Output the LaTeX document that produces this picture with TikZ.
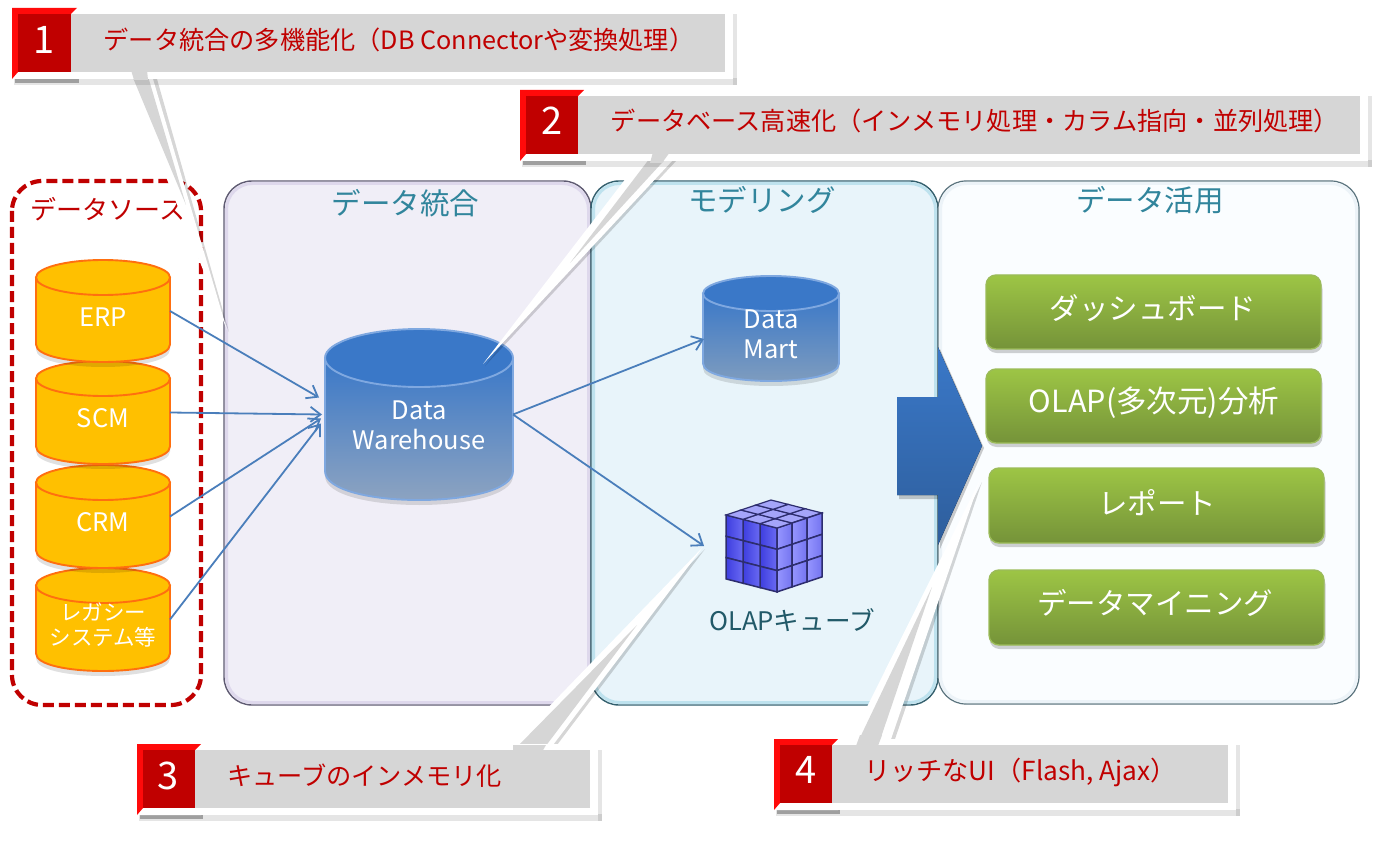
\documentclass[tikz,border=0pt]{standalone}
\usepackage{fontspec}
\setmainfont{Noto Sans CJK JP}
\usetikzlibrary{arrows.meta,calc}
\definecolor{redD}{HTML}{C00000}
\definecolor{redB}{HTML}{FF0A0A}
\definecolor{barG}{HTML}{D6D6D6}
\definecolor{tealT}{HTML}{31859C}
\definecolor{tealD}{HTML}{215968}
\definecolor{lineB}{HTML}{4A7EBB}
\definecolor{capB}{HTML}{3A78C8}
\definecolor{capE}{HTML}{7FA8E0}
\definecolor{orangeF}{HTML}{FFC000}
\definecolor{orangeE}{HTML}{FF6F0F}
\definecolor{grnT}{HTML}{9DC545}
\definecolor{grnB}{HTML}{759339}
\definecolor{grnE}{HTML}{9BBB59}
\definecolor{dwB}{HTML}{92A6C0}
\definecolor{mrtB}{HTML}{829EBE}
\definecolor{arwB}{HTML}{2E5E9C}
\definecolor{p1F}{HTML}{F0EEF7}
\definecolor{p1E}{HTML}{5F5B72}
\definecolor{p1I}{HTML}{DED8EC}
\definecolor{p2F}{HTML}{E8F4FA}
\definecolor{p2E}{HTML}{34606E}
\definecolor{p2I}{HTML}{BEE2EE}
\definecolor{p3F}{HTML}{FAFDFF}
\definecolor{p3E}{HTML}{5A737D}
\definecolor{p3I}{HTML}{ECF3F8}
\definecolor{cuL}{HTML}{3E3EE0}
\definecolor{cuLb}{HTML}{6A6AF2}
\definecolor{cuR}{HTML}{9696FF}
\definecolor{cuRb}{HTML}{7474F0}
\definecolor{cuT}{HTML}{A5A5FA}
\definecolor{cuE}{HTML}{2D2D6E}
\newcommand{\fsz}[1]{\fontsize{#1}{#1}\selectfont}
\newcommand{\mycyl}[7]{% x1 y1 x2 y2 ry fillstyle edgecolor
  \pgfmathsetmacro{\cyt}{#2+#5}
  \pgfmathsetmacro{\cyb}{#4-#5}
  \pgfmathsetmacro{\cyc}{#4+#5/3}
  \pgfmathsetmacro{\cyd}{#4+#5/3+5}
  \pgfmathsetmacro{\cye}{\cyb+5}
  \fill[black,opacity=.12] (#1,\cye) .. controls (#1,\cyd) and (#3,\cyd) .. (#3,\cye) -- (#3,\cyb) -- (#1,\cyb) -- cycle;
  \draw[line width=1.9pt,draw=#7,#6] (#1,\cyt) -- (#1,\cyb) .. controls (#1,\cyc) and (#3,\cyc) .. (#3,\cyb) -- (#3,\cyt) -- cycle;
}
\newcommand{\mycap}[6]{% x1 y1 x2 ry fill edge
  \pgfmathsetmacro{\cmx}{(#1+#3)/2}
  \pgfmathsetmacro{\crx}{(#3-#1)/2}
  \pgfmathsetmacro{\cyt}{#2+#4}
  \draw[line width=1.9pt,draw=#6,fill=#5] (\cmx,\cyt) ellipse [x radius=\crx, y radius=#4];
}
\newcommand{\mybar}[5]{% xl yt yb xr xg
  \fill[black,opacity=.10] (#1-4,#3+6) rectangle (#5+12,#3+13);
  \fill[black,opacity=.10] (#5+8,#2) rectangle (#5+12,#3+13);
  \fill[black,opacity=.30] (#1-3,#3+6) rectangle (#4+8,#3+11);
  \fill[white] (#1,#2-6) rectangle (#5+8,#3+7);
  \fill[barG] (#4,#2) rectangle (#5,#3);
  \fill[white] (#1-6,#3+7) -- (#1,#3) -- (#4,#3) -- (#4+6,#3+7) -- cycle;
  \fill[redB] (#1-6,#2-6) -- (#4+6,#2-6) -- (#4,#2) -- (#1,#2) -- (#1,#3) -- (#1-6,#3+7) -- cycle;
  \fill[redD] (#1,#2) rectangle (#4,#3);
}
\newcommand{\mywedge}[6]{% ax ay bx by tipx tipy
  \fill[black,opacity=.16] (#1+3,#2) -- (#3+4,#4) -- (#5+2,#6+2) -- cycle;
  \fill[white] (#1,#2) -- (#3,#4) -- (#5,#6) -- cycle;
}
\tikzset{
  hit/.style={inner sep=0pt,outer sep=0pt,rectangle},
  paneltitle/.style={text=tealT,font=\fsz{29.5},inner sep=0pt},
  calltext/.style={text=redD,font=\fsz{25.2},inner sep=0pt},
  numtext/.style={text=white,font=\fsz{38},inner sep=0pt},
  conn/.style={draw=lineB,line width=1.8pt,-{Straight Barb[length=10pt,width=15pt,line width=1.8pt]}},
  greenbox/.style={rectangle,rounded corners=10pt,draw=grnE,line width=1.4pt,top color=grnT,bottom color=grnB,inner sep=0pt},
  greentext/.style={text=white,font=\fsz{29.5},inner sep=0pt},
  cyltext/.style={text=white,font=\fontsize{25.5}{30}\selectfont,inner sep=0pt,align=center},
}
\begin{document}
\begin{tikzpicture}[x=1pt,y=-1pt]
\useasboundingbox (0,0) rectangle (1386,842);
\fill[white] (0,0) rectangle (1386,842);
% panels
\filldraw[rounded corners=28pt,fill=p1F,draw=p1E,line width=1.4pt] (224,181) rectangle (591,705);
\draw[rounded corners=26pt,draw=p1I,line width=3pt] (226.5,183.5) rectangle (588.5,702.5);
\filldraw[rounded corners=28pt,fill=p2F,draw=p2E,line width=1.4pt] (591,181) rectangle (938,705);
\draw[rounded corners=26pt,draw=p2I,line width=3pt] (593.5,183.5) rectangle (935.5,702.5);
\filldraw[rounded corners=28pt,fill=p3F,draw=p3E,line width=1.2pt] (938,181) rectangle (1359,704);
\draw[rounded corners=26pt,draw=p3I,line width=3pt] (940.5,183.5) rectangle (1356.5,701.5);
\node[paneltitle] (tInt) at (405.5,203) {データ統合};
\node[paneltitle] (tMod) at (762,200) {モデリング};
\node[paneltitle] (tUse) at (1150,200) {データ活用};
% data source frame
\draw[draw=redD,line width=4.2pt,rounded corners=30pt,dash pattern=on 11pt off 5pt] (12,181) rectangle (201,705);
\node[text=redD,font=\fsz{26},inner sep=0pt] (tSrc) at (108,209) {データソース};
% source cylinders
\mycyl{36}{568}{170}{671}{17.5}{fill=orangeF}{orangeE}
\mycap{36}{568}{170}{17.5}{orangeF}{orangeE}
\mycyl{36}{465}{170}{568}{17.5}{fill=orangeF}{orangeE}
\mycap{36}{465}{170}{17.5}{orangeF}{orangeE}
\mycyl{36}{361}{170}{464}{17.5}{fill=orangeF}{orangeE}
\mycap{36}{361}{170}{17.5}{orangeF}{orangeE}
\mycyl{36}{260}{170}{362}{17.5}{fill=orangeF}{orangeE}
\mycap{36}{260}{170}{17.5}{orangeF}{orangeE}
\node[hit,minimum width=134pt,minimum height=102pt] (erp) at (103,311) {};
\node[hit,minimum width=134pt,minimum height=103pt] (scm) at (103,412.5) {};
\node[hit,minimum width=134pt,minimum height=103pt] (crm) at (103,516.5) {};
\node[hit,minimum width=134pt,minimum height=103pt] (leg) at (103,619.5) {};
\node[cyltext] (lerp) at (103,317) {ERP};
\node[cyltext] (lscm) at (103,418) {SCM};
\node[cyltext] (lcrm) at (103,522) {CRM};
\node[cyltext,font=\fontsize{21.5}{25}\selectfont] (lleg) at (103,625) {レガシー\\システム等};
% warehouse and mart
\mycyl{325}{329}{513}{500}{29}{top color=capB,bottom color=dwB}{capE}
\mycap{325}{329}{513}{29}{capB}{capE}
\node[hit,minimum width=188pt,minimum height=171pt] (dw) at (419,414.5) {};
\node[cyltext] (ldw) at (419,425) {Data\\Warehouse};
\mycyl{703}{276}{839}{381}{17.5}{top color=capB,bottom color=mrtB}{capE}
\mycap{703}{276}{839}{17.5}{capB}{capE}
\node[hit,minimum width=136pt,minimum height=105pt] (mart) at (771,328.5) {};
\node[cyltext] (lmart) at (771,334) {Data\\Mart};
% cube
\node[hit,minimum width=96pt,minimum height=94pt] (cube) at (774,545) {};
\foreach \i in {0,1,2}{\foreach \k in {0,1,2}{
  \pgfmathsetmacro{\px}{777-17*\i}\pgfmathsetmacro{\py}{528-4.33*\i+21.3*\k}
  \filldraw[draw=cuE,line width=1.5pt,left color=cuL,right color=cuLb] (\px,\py) -- ++(-17,-4.33) -- ++(0,21.3) -- ++(17,4.33) -- cycle;
  \pgfmathsetmacro{\qx}{777+15*\i}\pgfmathsetmacro{\qy}{528-5*\i+21.3*\k}
  \filldraw[draw=cuE,line width=1.5pt,left color=cuR,right color=cuRb] (\qx,\qy) -- ++(15,-5) -- ++(0,21.3) -- ++(-15,5) -- cycle;
  \pgfmathsetmacro{\rx}{777-17*\i+15*\k}\pgfmathsetmacro{\ry}{528-4.33*\i-5*\k}
  \filldraw[draw=cuE,line width=1.2pt,fill=cuT] (\rx,\ry) -- ++(-17,-4.33) -- ++(15,-5) -- ++(17,4.33) -- cycle;
}}
\node[text=tealD,font=\fsz{25.6},inner sep=0pt] (lcube) at (792,620) {OLAPキューブ};
% connectors
\draw[conn] (erp.east) -- ($(dw.west)+(-6,-17)$);
\draw[conn] (scm.east) -- ($(dw.west)+(-3,0)$);
\draw[conn] (crm.east) -- ($(dw.west)+(-4,4)$);
\draw[conn] (leg.east) -- ($(dw.west)+(-4,9)$);
\draw[conn] (dw.east) -- ($(mart.west)+(1,10.5)$);
\draw[conn] (dw.east) -- ($(cube.west)+(-22,1)$);
% big arrow
\fill[black,opacity=.2] (899,399) -- (940,399) -- (940,349) -- (984,448) -- (940,549) -- (940,499) -- (899,499) -- cycle;
\fill[top color=capB,bottom color=arwB] (897,397) -- (938,397) -- (938,347) -- (982,446) -- (938,545) -- (938,495) -- (897,495) -- cycle;
% green boxes
\foreach \yy/\xx/\hh in {312/1153.5/74,406/1153.5/74,505.5/1156.5/75,607.5/1156.5/75}{
  \fill[rounded corners=10pt,black,opacity=.18] (\xx-167,\yy-\hh/2+4) rectangle (\xx+169,\yy+\hh/2+4);
}
\node[greenbox,minimum width=335pt,minimum height=74pt] (g1) at (1153.5,312) {};
\node[greenbox,minimum width=335pt,minimum height=74pt] (g2) at (1153.5,406) {};
\node[greenbox,minimum width=335pt,minimum height=75pt] (g3) at (1156.5,505.5) {};
\node[greenbox,minimum width=335pt,minimum height=75pt] (g4) at (1156.5,607.5) {};
\node[greentext] (lg1) at (1153,308) {ダッシュボード};
\node[greentext,font=\fsz{30.5}] (lg2) at (1154,403) {OLAP(多次元)分析};
\node[greentext] (lg3) at (1157,503) {レポート};
\node[greentext] (lg4) at (1155,603) {データマイニング};
% callout wedges
\mywedge{127}{79}{153}{79}{227}{330}
\fill[barG] (131,73) -- (147,73) -- (186,205) -- cycle;
\mywedge{640}{160}{673}{160}{483}{364}
\fill[barG] (653,154) -- (670,154) -- (570,263) -- cycle;
\mywedge{512}{745}{553}{745}{703}{547}
\fill[barG] (513,751) -- (542,751) -- (637,625) -- cycle;
\mywedge{848}{745}{889}{745}{980}{480}
\fill[barG] (856,746) -- (878,746) -- (932,587) -- cycle;
% callout bars
\mybar{18}{14}{72}{71}{725}
\mybar{526}{96}{154}{578}{1360}
\mybar{143}{750}{808}{195}{590}
\mybar{780}{745}{803}{832}{1228}
\fill[barG] (131,70) -- (147,70) -- (148,80) -- (134,80) -- cycle;
\fill[barG] (653,152) -- (670,152) -- (662,163) -- (650,163) -- cycle;
\fill[barG] (513,745) -- (546,745) -- (542,752) -- (513,752) -- cycle;
\fill[barG] (860,735) -- (882,735) -- (878,746) -- (856,746) -- cycle;
\node[numtext] (n1) at (44,40) {1};
\node[numtext] (n2) at (552,121) {2};
\node[numtext] (n3) at (168,776) {3};
\node[numtext] (n4) at (806,770) {4};
\node[calltext] (c1) at (399,40) {データ統合の多機能化（DB Connectorや変換処理）};
\node[calltext] (c2) at (975,121) {データベース高速化（インメモリ処理・カラム指向・並列処理）};
\node[calltext] (c3) at (364.5,776) {キューブのインメモリ化};
\node[calltext,font=\fsz{26.2}] (c4) at (1020.5,772) {リッチなUI（Flash, Ajax）};
\end{tikzpicture}
\end{document}
